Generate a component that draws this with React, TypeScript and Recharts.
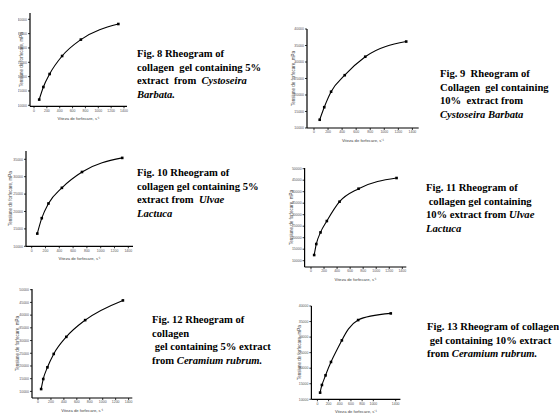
import React from 'react';
import { LineChart, Line, XAxis, YAxis } from 'recharts';

// shear rates of the rheometer, s-1
const shearSix = [81, 145.8, 243, 437.4, 729, 1312];
const shearSeven = [48.6, 81, 145.8, 243, 437.4, 729, 1312];

// shear stress, mPa
const fig8Stress = [11990, 16380, 20920, 27200, 32920, 38360];
const fig9Stress = [12500, 16300, 21000, 26000, 31600, 36200];
const fig10Stress = [13650, 18080, 22300, 26800, 31350, 35400];
const fig11Stress = [12460, 17250, 22300, 27250, 35650, 41300, 45950];
const fig12Stress = [10920, 14870, 19470, 24740, 31450, 38030, 45790];
const fig13Stress = [12140, 14600, 17700, 22000, 28950, 35480, 37620];

const xTicks = [0, 200, 400, 600, 800, 1000, 1200, 1400];
const yTicks40 = [10000, 15000, 20000, 25000, 30000, 35000, 40000];
const yTicks35 = [10000, 15000, 20000, 25000, 30000, 35000];
const yTicks50 = [10000, 15000, 20000, 25000, 30000, 35000, 40000, 45000, 50000];

const X_TITLE = 'Viteza de forfecare, s\u207B\u00B9';
const Y_TITLE = 'Tensiune de forfecare, mPa';

type Box = { l: number; r: number; t: number; b: number };
type Cfg = {
  xs: number[];
  ys: number[];
  yTicks: number[];
  box: Box;
  xPix: [number, number]; // pixel of x tick 0 and 1400
  yPix: [number, number]; // pixel of first and last y tick
  labelX: number;
  curve: 'monotone' | 'natural';
};

const charts: Cfg[] = [
  { xs: shearSix, ys: fig8Stress, yTicks: yTicks40, box: { l: 30, r: 127, t: 12.7, b: 106 }, xPix: [34, 124], yPix: [105, 19], labelX: 21, curve: 'monotone' },
  { xs: shearSix, ys: fig9Stress, yTicks: yTicks40, box: { l: 307.3, r: 419, t: 29.3, b: 128.3 }, xPix: [314.3, 412.7], yPix: [128.3, 29.3], labelX: 293.3, curve: 'monotone' },
  { xs: shearSix, ys: fig10Stress, yTicks: yTicks35, box: { l: 26, r: 133, t: 150.7, b: 246 }, xPix: [31.7, 128.3], yPix: [246, 159], labelX: 10, curve: 'monotone' },
  { xs: shearSeven, ys: fig11Stress, yTicks: yTicks50, box: { l: 304.3, r: 406, t: 168.3, b: 267.3 }, xPix: [310.7, 402], yPix: [261, 169], labelX: 290.7, curve: 'monotone' },
  { xs: shearSeven, ys: fig12Stress, yTicks: yTicks50, box: { l: 31.7, r: 132, t: 289.3, b: 398.3 }, xPix: [37.7, 128.3], yPix: [391.7, 290], labelX: 16.7, curve: 'monotone' },
  { xs: shearSeven, ys: fig13Stress, yTicks: yTicks40, box: { l: 311.7, r: 400.7, t: 306, b: 399.3 }, xPix: [317.7, 396], yPix: [399.3, 306], labelX: 299.3, curve: 'natural' },
];

type Seg = { text: string; italic?: boolean };
type Caption = { x: number; top: number; lines: Seg[][] };

const captions: Caption[] = [
  { x: 137, top: 54, lines: [
    [{ text: 'Fig. 8 Rheogram of' }],
    [{ text: 'collagen  gel containing 5%' }],
    [{ text: 'extract  from  ' }, { text: 'Cystoseira', italic: true }],
    [{ text: 'Barbata.', italic: true }],
  ] },
  { x: 440, top: 74, lines: [
    [{ text: 'Fig. 9  Rheogram of' }],
    [{ text: 'Collagen  gel containing' }],
    [{ text: '10%  extract from' }],
    [{ text: 'Cystoseira Barbata', italic: true }],
  ] },
  { x: 137, top: 173, lines: [
    [{ text: 'Fig. 10 Rheogram of' }],
    [{ text: 'collagen gel containing 5%' }],
    [{ text: 'extract from  ' }, { text: 'Ulvae', italic: true }],
    [{ text: 'Lactuca', italic: true }],
  ] },
  { x: 426, top: 188, lines: [
    [{ text: 'Fig. 11 Rheogram of' }],
    [{ text: ' collagen gel containing' }],
    [{ text: '10% extract from ' }, { text: 'Ulvae', italic: true }],
    [{ text: 'Lactuca', italic: true }],
  ] },
  { x: 152, top: 320, lines: [
    [{ text: 'Fig. 12 Rheogram of' }],
    [{ text: 'collagen' }],
    [{ text: ' gel containing 5% extract' }],
    [{ text: 'from ' }, { text: 'Ceramium rubrum.', italic: true }],
  ] },
  { x: 427, top: 327, lines: [
    [{ text: 'Fig. 13 Rheogram of collagen' }],
    [{ text: ' gel containing 10% extract' }],
    [{ text: 'from ' }, { text: 'Ceramium rubrum.', italic: true }],
  ] },
];

const LINE_H = 13.5;

function squareDot(p: any) {
  if (p.cx == null || p.cy == null) return <g key={p.index} />;
  return <rect key={p.index} x={p.cx - 1.3} y={p.cy - 1.3} width={2.6} height={2.6} fill="#000" />;
}

function Rheogram({ cfg }: { cfg: Cfg }) {
  const { box, xPix, yPix, yTicks } = cfg;
  const xScale = 1400 / (xPix[1] - xPix[0]);
  const xDomain = [(box.l - xPix[0]) * xScale, (box.r - xPix[0]) * xScale];
  const v0 = yTicks[0];
  const v1 = yTicks[yTicks.length - 1];
  const yScale = (v1 - v0) / (yPix[0] - yPix[1]);
  const yDomain = [v0 - (box.b - yPix[0]) * yScale, v1 + (yPix[1] - box.t) * yScale];

  const top = 4;
  const right = 4;
  const xh = 15;
  const yw = box.l - cfg.labelX + 3;
  const width = yw + (box.r - box.l) + right;
  const height = top + (box.b - box.t) + xh;
  const data = cfg.xs.map((x, i) => ({ x, y: cfg.ys[i] }));

  return (
    <div style={{ position: 'absolute', left: box.l - yw, top: box.t - top }}>
      <LineChart width={width} height={height} data={data} margin={{ top, right, left: 0, bottom: 0 }}>
        <XAxis
          dataKey="x"
          type="number"
          domain={xDomain}
          ticks={xTicks}
          allowDataOverflow
          height={xh}
          tickSize={2}
          tickMargin={1}
          axisLine={{ stroke: '#000', strokeWidth: 1.2 }}
          tickLine={{ stroke: '#000', strokeWidth: 0.8 }}
          tick={{ fontSize: 3.5, fill: '#555', fontFamily: 'Liberation Sans' }}
          label={{ value: X_TITLE, position: 'insideBottom', offset: 1, fontSize: 4.2, fill: '#444', fontFamily: 'Liberation Sans' }}
        />
        <YAxis
          type="number"
          domain={yDomain}
          ticks={yTicks}
          allowDataOverflow
          width={yw}
          tickSize={2}
          tickMargin={1}
          axisLine={{ stroke: '#000', strokeWidth: 1.2 }}
          tickLine={{ stroke: '#000', strokeWidth: 0.8 }}
          tick={{ fontSize: 3.5, fill: '#555', fontFamily: 'Liberation Sans' }}
          label={{ value: Y_TITLE, angle: -90, position: 'insideLeft', offset: 3, textAnchor: 'middle', fontSize: 4.5, fill: '#444', fontFamily: 'Liberation Sans' }}
        />
        <Line
          type={cfg.curve}
          dataKey="y"
          stroke="#000"
          strokeWidth={1.1}
          dot={squareDot}
          activeDot={false}
          isAnimationActive={false}
        />
      </LineChart>
    </div>
  );
}

function CaptionBlock({ c }: { c: Caption }) {
  return (
    <>
      {c.lines.map((segs, i) => (
        <div
          key={i}
          style={{
            position: 'absolute',
            left: c.x,
            top: c.top + i * LINE_H - 7,
            height: 14,
            lineHeight: '14px',
            whiteSpace: 'pre',
            fontFamily: '"Liberation Serif", "Times New Roman", serif',
            fontWeight: 'bold',
            fontSize: 10.6,
            color: '#000',
          }}
        >
          {segs.map((s, j) => (
            <span key={j} style={{ fontStyle: s.italic ? 'italic' : 'normal' }}>{s.text}</span>
          ))}
        </div>
      ))}
    </>
  );
}

export default function App() {
  return (
    <div style={{ position: 'absolute', left: 0, top: 0, width: 559, height: 414, background: '#fff', overflow: 'hidden' }}>
      {charts.map((cfg, i) => (
        <Rheogram key={i} cfg={cfg} />
      ))}
      {captions.map((c, i) => (
        <CaptionBlock key={i} c={c} />
      ))}
    </div>
  );
}
